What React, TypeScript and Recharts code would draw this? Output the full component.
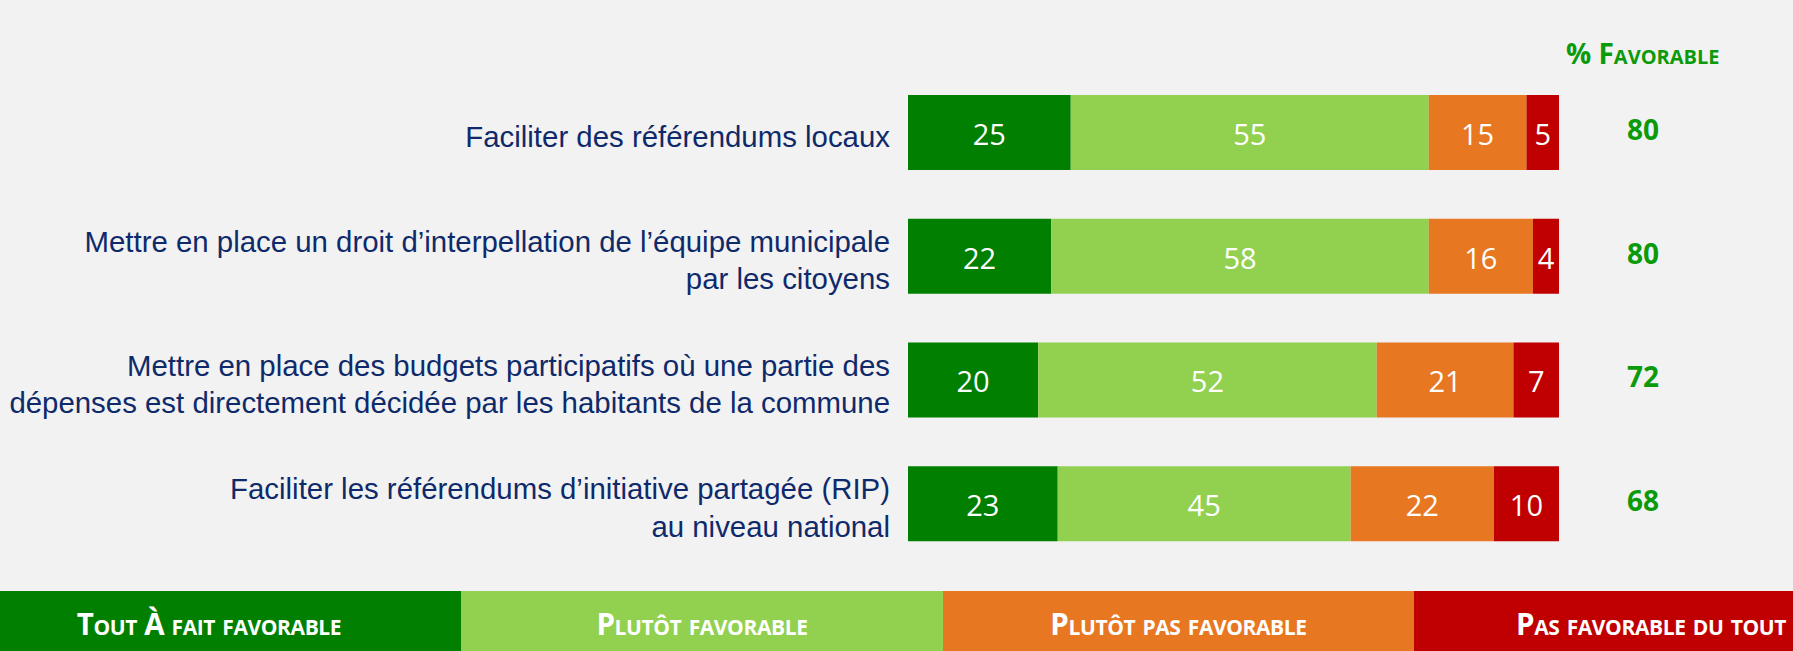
import React from 'react';
import { BarChart, Bar, XAxis, YAxis, LabelList } from 'recharts';

// Survey items (line breaks as in the slide)
const categories = [
  'Faciliter des référendums locaux',
  'Mettre en place un droit d’interpellation de l’équipe municipale\npar les citoyens',
  'Mettre en place des budgets participatifs où une partie des\ndépenses est directement décidée par les habitants de la commune',
  'Faciliter les référendums d’initiative partagée (RIP)\nau niveau national',
];

const toutAFait = [25, 22, 20, 23];
const plutot = [55, 58, 52, 45];
const plutotPas = [15, 16, 21, 22];
const pasDuTout = [5, 4, 7, 10];
const favorable = ['80', '80', '72', '68'];

const legendLabels = ['Tout À fait favorable', 'Plutôt favorable', 'Plutôt pas favorable', 'Pas favorable du tout'];
const COLORS = ['#007f00', '#92d050', '#e87722', '#c00000'];

const data = categories.map((label, i) => ({
  label,
  fav: favorable[i],
  a: toutAFait[i],
  b: plutot[i],
  c: plutotPas[i],
  d: pasDuTout[i],
}));

const W = 1793;
const H = 651;
const NAVY = '#0f2a6a';
const GREEN_TXT = '#0a9a0a';

const CategoryTick = (props: any) => {
  const { x, y, payload } = props;
  const lines: string[] = String(payload.value).split('\n');
  const lh = 37.7;
  const first = y + 14 - ((lines.length - 1) * lh) / 2;
  return (
    <text x={x} textAnchor="end" fill={NAVY} fontSize={29.4} fontFamily="'Liberation Sans', Arial, sans-serif">
      {lines.map((l, i) => (
        <tspan key={i} x={x} y={first + i * lh}>{l}</tspan>
      ))}
    </text>
  );
};

const FavTick = (props: any) => {
  const { x, y, payload } = props;
  return (
    <text x={x} y={y + 7} textAnchor="middle" fill={GREEN_TXT} fontSize={28} fontWeight="bold" fontFamily="'Open Sans', sans-serif">
      {payload.value}
    </text>
  );
};

const labelProps = { position: 'center' as const, fill: '#ffffff', fontSize: 29, dy: 2, fontFamily: "'Open Sans', sans-serif" };

export default function App() {
  return (
    <div style={{ position: 'absolute', left: 0, top: 0, width: W, height: H, background: '#f2f2f2', overflow: 'hidden' }}>
      <div
        style={{
          position: 'absolute', left: 1566, top: 34, fontFamily: "'Open Sans', sans-serif", fontWeight: 700,
          fontSize: 28, fontVariant: 'small-caps', color: GREEN_TXT, whiteSpace: 'nowrap', lineHeight: '38px',
        }}
      >
        % Favorable
      </div>

      <BarChart
        width={W}
        height={591}
        data={data}
        layout="vertical"
        margin={{ top: 71, right: 0, bottom: 25, left: 0 }}
        barSize={75}
      >
        <XAxis type="number" domain={[0, 100]} hide />
        <YAxis
          type="category"
          dataKey="label"
          width={908}
          axisLine={false}
          tickLine={false}
          tickSize={0}
          tickMargin={18}
          tick={<CategoryTick />}
          interval={0}
        />
        <YAxis
          yAxisId="fav"
          type="category"
          dataKey="fav"
          orientation="right"
          width={234}
          axisLine={false}
          tickLine={false}
          tickSize={0}
          tickMargin={84}
          tick={<FavTick />}
          interval={0}
        />
        <Bar dataKey="a" stackId="s" fill={COLORS[0]} isAnimationActive={false}>
          <LabelList dataKey="a" {...labelProps} />
        </Bar>
        <Bar dataKey="b" stackId="s" fill={COLORS[1]} isAnimationActive={false}>
          <LabelList dataKey="b" {...labelProps} />
        </Bar>
        <Bar dataKey="c" stackId="s" fill={COLORS[2]} isAnimationActive={false}>
          <LabelList dataKey="c" {...labelProps} />
        </Bar>
        <Bar dataKey="d" stackId="s" fill={COLORS[3]} isAnimationActive={false}>
          <LabelList dataKey="d" {...labelProps} />
        </Bar>
      </BarChart>

      {/* legend strip along the bottom */}
      {legendLabels.map((t, i) => {
        const edges = [-43, 461, 943, 1414, 1888];
        return (
          <div
            key={t}
            style={{
              position: 'absolute', left: edges[i], top: 591, width: edges[i + 1] - edges[i], height: 60,
              background: COLORS[i], color: '#fff', display: 'flex', alignItems: 'center', justifyContent: 'center',
              fontFamily: "'Open Sans', sans-serif", fontWeight: 700, fontSize: 29.5, letterSpacing: -0.4,
              fontVariant: 'small-caps', whiteSpace: 'nowrap', paddingTop: 4, boxSizing: 'border-box',
            }}
          >
            {t}
          </div>
        );
      })}
    </div>
  );
}
